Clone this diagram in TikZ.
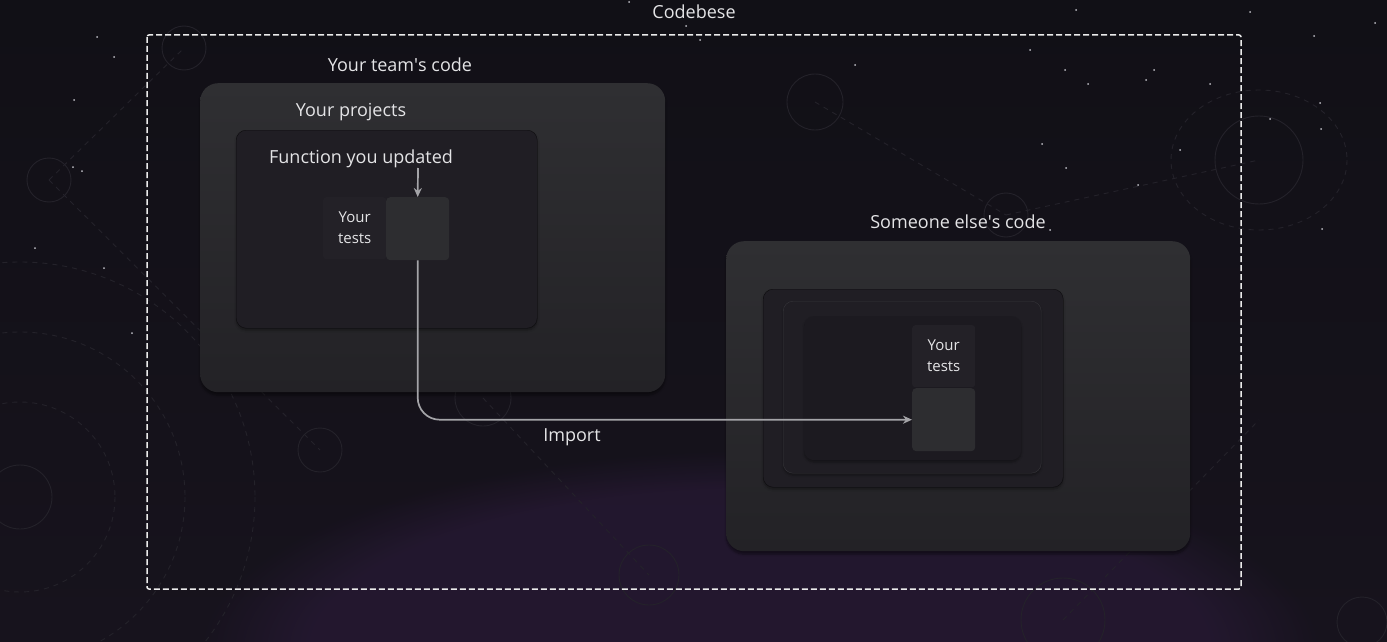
\documentclass[tikz,border=0pt]{standalone}
\usepackage{fontspec}
\setmainfont{Open Sans}
\usetikzlibrary{arrows.meta, positioning, shadows.blur, fadings}
\definecolor{bgtop}{HTML}{111016}
\definecolor{bgbot}{HTML}{17131D}
\definecolor{glow}{HTML}{3A2150}
\definecolor{labelgray}{HTML}{E4E4E6}
\definecolor{boxtop}{HTML}{2F2F32}
\definecolor{boxbot}{HTML}{232226}
\definecolor{projfill}{HTML}{201E24}
\definecolor{funcfill}{HTML}{2D2D30}
\definecolor{testfill}{HTML}{232127}
\definecolor{conngray}{HTML}{A4A4A8}
\definecolor{decogray}{HTML}{24222A}
\definecolor{stargray}{HTML}{BDBDC4}

\begin{document}
\begin{tikzpicture}[
    x=1pt, y=-1pt,
    every node/.style={inner sep=0pt, text=labelgray, font=\fontsize{18}{21}\selectfont},
    box/.style={rectangle, anchor=north west},
    bigbox/.style={box, rounded corners=18pt, top color=boxtop, bottom color=boxbot,
        blur shadow={shadow xshift=0pt, shadow yshift=-3pt, shadow opacity=45, shadow blur steps=6}},
    projbox/.style={box, rounded corners=10pt, fill=projfill, draw=black!60!projfill,
        blur shadow={shadow xshift=0pt, shadow yshift=-2pt, shadow opacity=35, shadow blur steps=5}},
    funcbox/.style={box, rounded corners=4pt, fill=funcfill, minimum width=63pt, minimum height=63pt},
    testsbox/.style={box, rounded corners=3pt, fill=testfill, minimum width=63pt, minimum height=62pt,
        align=center, font=\fontsize{15}{21}\selectfont},
    conn/.style={draw=conngray, line width=1.7pt, -{Stealth[length=9pt, width=8pt]}},
    frame/.style={draw=white!92!black, line width=1.5pt, dash pattern=on 6pt off 3pt, rounded corners=2pt},
    deco/.style={draw=decogray, line width=0.9pt},
    decodash/.style={deco, dash pattern=on 5pt off 5pt}
]
\useasboundingbox (0,0) rectangle (1387,642);

% background
\begin{scope}
\clip (0,0) rectangle (1387,642);
\shade[top color=bgtop, bottom color=bgbot] (0,0) rectangle (1387,642);
\fill[glow, path fading=circle with fuzzy edge 20 percent, opacity=0.35] (760,650) ellipse (560 and 200);
% decoration
\foreach \cx/\cy/\r in {49/180/22, 184/48/22, 20/497/32, 320/450/22, 483/398/28, 815/102/28,
    1006/215/22, 1259/160/44, 649/575/30, 1063/620/42, 1362/622/25}
    \draw[deco] (\cx,\cy) circle (\r);
\draw[decodash] (20,497) circle (95);
\draw[decodash] (20,497) circle (165);
\draw[decodash] (20,497) circle (235);
\draw[decodash] (1259,160) ellipse (88 and 70);
\draw[decodash] (49,180) -- (184,48);
\draw[decodash] (49,180) -- (320,450);
\draw[decodash] (815,102) -- (1006,215);
\draw[decodash] (1006,215) -- (1259,160);
\draw[decodash] (483,398) -- (649,575);
\draw[decodash] (1063,620) -- (1259,420);
\end{scope}
\foreach \sx/\sy in {629/2, 686/26, 1076/10, 1250/12, 1375/23, 1314/36, 1320/103, 1270/119,
    1321/129, 73/167, 82/171, 97/37, 114/57, 74/100, 1146/80, 1210/84, 1065/70, 1088/84,
    1154/70, 1042/144, 1066/168, 1322/229, 35/248, 104/268, 132/333, 920/275, 855/65, 700/40,
    1030/50, 1180/150, 1138/185, 1050/230}
    \fill[stargray] (\sx,\sy) circle (1);

% outer frame
\node (codebase) at (694,12) {Codebese};
\draw[frame] (147,35) rectangle (1241,589);

% your team's code
\node (teamlbl) at (400,65) {Your team\textquotesingle s code};
\node[bigbox, minimum width=465pt, minimum height=309pt] (team) at (200,83) {};
\node (projlbl) at (351,112) {Your projects};
\node[projbox, minimum width=301pt, minimum height=198pt] (proj) at (236,130) {};
\node (fnlbl) at (361,159) {Function you updated};
\node[testsbox] (tests) at (323,197) {Your\\tests};
\node[funcbox] (func) at (386,197) {};
\coordinate (fntip) at (418,168);

% someone else's code
\node (otherlbl) at (958,222) {Someone else\textquotesingle s code};
\node[bigbox, minimum width=464pt, minimum height=310pt] (other) at (726,241) {};
\node[projbox, minimum width=300pt, minimum height=198pt] (outerproj) at (763,289) {};
\node[projbox, fill=projfill, draw=white!10!projfill, minimum width=258pt, minimum height=172pt] (midproj) at (783,301) {};
\node[projbox, fill=black!12!projfill, draw=none, minimum width=217pt, minimum height=144pt] (innerproj) at (804,316) {};
\node[testsbox] (rtests) at (912,325) {Your\\tests};
\node[funcbox] (rfunc) at (912,388) {};

% connectors
\draw[conn] (fntip) -- (func.north);
\draw[conn, rounded corners=22pt] (func.south) |- (rfunc.west);
\node (importlbl) at (572,437) {Import};

\end{tikzpicture}
\end{document}
